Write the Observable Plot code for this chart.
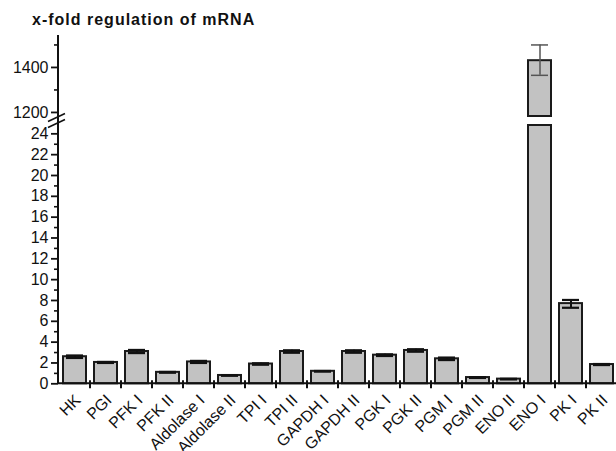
<!DOCTYPE html>
<html><head><meta charset="utf-8">
<script src="https://cdn.jsdelivr.net/npm/d3@7"></script>
<script src="https://cdn.jsdelivr.net/npm/@observablehq/plot@0.6"></script>
<style>
body{margin:0;background:#fff;}
#wrap{position:relative;width:616px;height:451px;font-family:"Liberation Sans",Arial,Helvetica,sans-serif;color:#111;}
#title{position:absolute;left:32px;top:11px;font-weight:bold;font-size:16px;letter-spacing:1px;color:#111;white-space:nowrap;}
#wrap svg{position:absolute;left:0;top:0;}
#wrap svg g[aria-label="y-axis tick label"] text{font-size:16px !important;font-family:"Liberation Sans",Arial,sans-serif !important;}
#wrap svg g[aria-label="x-axis tick label"] text{font-size:16px !important;font-family:"Liberation Sans",Arial,sans-serif !important;}
</style></head><body>
<div id="wrap"><div id="title">x-fold regulation of mRNA</div></div>
<script>
const categories = ["HK","PGI","PFK I","PFK II","Aldolase I","Aldolase II","TPI I","TPI II","GAPDH I","GAPDH II","PGK I","PGK II","PGM I","PGM II","ENO II","ENO I","PK I","PK II"];
const values  = [2.6, 2.05, 3.1, 1.1, 2.1, 0.8, 1.9, 3.1, 1.2, 3.1, 2.75, 3.2, 2.4, 0.6, 0.45, 1430, 7.7, 1.85];
const errLow  = [2.48, 2.0, 2.95, 1.06, 2.0, 0.77, 1.83, 2.98, 1.17, 2.98, 2.67, 3.08, 2.28, 0.56, 0.42, 1365, 7.3, 1.8];
const errHigh = [2.72, 2.1, 3.25, 1.14, 2.2, 0.83, 1.97, 3.22, 1.23, 3.22, 2.83, 3.32, 2.52, 0.64, 0.48, 1500, 8.05, 1.9];
const lowerTicks = [0,2,4,6,8,10,12,14,16,18,20,22,24];
const lowerMinor = [1,3,5,7,9,11,13,15,17,19,21,23];
const upperTicks = [1200,1400];
const upperMinor = [1300,1500];
const breakLow = 24.8, breakHigh = 1182, axisTop = 1542;

const data = categories.map((name, i) => ({name, value: values[i], lo: errLow[i], hi: errHigh[i]}));
const segments = data.flatMap(d => d.value <= breakLow
  ? [{name: d.name, y1: 0, y2: d.value}]
  : [{name: d.name, y1: 0, y2: breakLow}, {name: d.name, y1: breakHigh, y2: d.value}]);

function decor(index, scales, values, dims) {
  const x = scales.x, y = scales.y;
  const xr = x.range ? x.range() : [dims.marginLeft, dims.width];
  const bw = x.bandwidth ? x.bandwidth() : 23;
  const step = x.step ? x.step() : 31;
  const g = d3.create("svg:g").attr("fill", "none").attr("stroke", "#111").attr("stroke-width", 2);
  const ax = dims.marginLeft, y0 = y(0);
  g.append("line").attr("x1", ax).attr("x2", ax).attr("y1", y0).attr("y2", y(axisTop));
  g.append("line").attr("x1", ax).attr("x2", xr[1]).attr("y1", y0).attr("y2", y0);
  const bounds = categories.map(c => x(c) - (step - bw) / 2).concat([x(categories[categories.length-1]) + bw + (step - bw) / 2]);
  bounds.slice(1).forEach(b => g.append("line").attr("x1", b).attr("x2", b).attr("y1", y0 - 3).attr("y2", y0 + 5));
  const ym = (y(breakLow) + y(breakHigh)) / 2;
  const bm = g.append("g").attr("stroke-width", 1.6);
  bm.append("line").attr("x1", ax - 10).attr("y1", ym + 1).attr("x2", ax + 7).attr("y2", ym - 7);
  bm.append("line").attr("x1", ax - 10).attr("y1", ym + 7).attr("x2", ax + 7).attr("y2", ym - 1);
  return g.node();
}

const plot = Plot.plot({
  width: 616,
  height: 451,
  marginLeft: 58,
  marginBottom: 68,
  marginTop: 35,
  marginRight: 0,
  style: {fontFamily: '"Liberation Sans", Arial, Helvetica, sans-serif', fontSize: "16px", color: "#111", background: "transparent"},
  x: {type: "band", domain: categories, range: [57.8, 617.6], paddingInner: 0.26, paddingOuter: 0.13, label: null},
  y: {type: "linear", domain: [0, breakLow, breakHigh, axisTop], range: [383.3, 125, 116, 35], label: null},
  marks: [
    Plot.barY(segments, {x: "name", y1: "y1", y2: "y2", fill: "#c2c2c2", stroke: "#1a1a1a", strokeWidth: 2}),
    Plot.ruleX(data, {x: "name", y1: "lo", y2: "hi", stroke: d => d.value > breakLow ? "#555" : "#111", strokeWidth: d => d.value > breakLow ? 1.5 : 2}),
    Plot.tickY(data, {x: "name", y: "lo", insetLeft: 3, insetRight: 3, stroke: d => d.value > breakLow ? "#555" : "#111", strokeWidth: d => d.value > breakLow ? 1.5 : 2.2}),
    Plot.tickY(data, {x: "name", y: "hi", insetLeft: 3, insetRight: 3, stroke: d => d.value > breakLow ? "#555" : "#111", strokeWidth: d => d.value > breakLow ? 1.5 : 2.2}),
    Plot.axisY({ticks: lowerTicks.concat(upperTicks), tickSize: 7, tickPadding: 3, fontSize: 16, strokeWidth: 1.8, label: null, tickFormat: d => String(d)}),
    Plot.axisY({ticks: lowerMinor.concat(upperMinor), tickSize: 4, tickFormat: () => "", strokeWidth: 1.6, label: null}),
    Plot.axisX({tickRotate: -45, tickSize: 0, tickPadding: 14, dx: 3, fontSize: 16, label: null}),
    decor
  ]
});
document.getElementById("wrap").appendChild(plot);
</script>
</body></html>
